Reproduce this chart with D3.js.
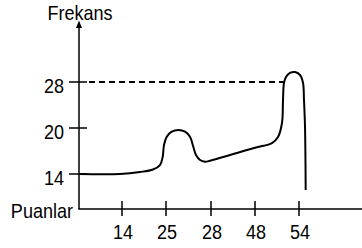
<!DOCTYPE html>
<html>
<head>
<meta charset="utf-8">
<script src="https://cdn.jsdelivr.net/npm/d3@7"></script>
<style>
  html, body { margin: 0; padding: 0; background: #fff; }
  svg { display: block; }
  text { font-family: "Liberation Sans", Arial, sans-serif; fill: #000; }
</style>
</head>
<body>
<svg id="chart" width="362" height="248"></svg>
<script>
// ---- data ----
const xTickValues = [14, 25, 28, 48, 54];
const xTickLabels = ["14", "25", "28", "48", "54"];
const yTickValues = [14, 20, 28];
const yTickLabels = ["14", "20", "28"];
const xTitle = "Puanlar";
const yTitle = "Frekans";
// sketched frequency curve (puan, frekans)
const curveX = [0, 13.35, 18.5, 21.75, 23.5, 24.18, 24.5, 25.05, 25.38, 25.82, 26.27, 26.6, 26.82, 27.0, 27.27, 27.6, 28, 48, 50.32, 51.14, 51.68, 51.82, 51.95, 52.23, 52.77, 53.45, 54.14, 54.55, 54.68, 54.82, 54.91];
const curveY = [14, 14, 14.26, 14.59, 15.17, 16.26, 17.78, 18.86, 19.52, 19.74, 19.52, 18.86, 17.56, 16.48, 15.83, 15.6, 15.77, 17.42, 18.04, 18.83, 20.87, 24.87, 27.83, 28.87, 29.57, 29.74, 29.22, 27.83, 24.87, 20.17, 7.6];
const refLevel = 28;     // dashed reference value
const refEndX = 51.95;   // where dashed line meets curve

// ---- scales (sketch axes: unevenly spaced values, evenly spaced ticks) ----
const x = d3.scaleLinear().domain([0, 14, 25, 28, 48, 54]).range([79, 122, 166, 211, 255, 299]);
const y = d3.scaleLinear().domain([0, 14, 20, 28]).range([209, 174, 128, 82]);

const svg = d3.select("#chart");
const x0 = x(0), y0 = y(0);
const FS = 20.5, SX = 0.88;

function label(px, py, anchor, txt) {
  svg.append("text")
    .attr("transform", `translate(${px},${py}) scale(${SX},1)`)
    .attr("text-anchor", anchor).attr("font-size", FS).text(txt);
}

// arrow marker
svg.append("defs").append("marker")
  .attr("id", "arr").attr("viewBox", "0 0 10 10").attr("refX", 5).attr("refY", 10)
  .attr("markerWidth", 5).attr("markerHeight", 6).attr("orient", "0")
  .append("path").attr("d", "M1,10 L5,0 L9,10 Z").attr("fill", "#000");

// axes
svg.append("line").attr("x1", x0).attr("x2", x0).attr("y1", y0).attr("y2", 28)
  .attr("stroke", "#000").attr("stroke-width", 1.5).attr("marker-end", "url(#arr)");
svg.append("line").attr("x1", x0 - 0.75).attr("x2", 362).attr("y1", y0).attr("y2", y0)
  .attr("stroke", "#000").attr("stroke-width", 1.5);

// x ticks
svg.selectAll(".xt").data(xTickValues).join("line").attr("class", "xt")
  .attr("x1", d => x(d)).attr("x2", d => x(d)).attr("y1", y0 - 8).attr("y2", y0 + 7)
  .attr("stroke", "#000").attr("stroke-width", 1.5);
xTickValues.forEach((d, i) => label(x(d) + 1, 239, "middle", xTickLabels[i]));

// y ticks
svg.selectAll(".yt").data(yTickValues).join("line").attr("class", "yt")
  .attr("x1", x0 - 10).attr("x2", x0 + 8).attr("y1", d => y(d)).attr("y2", d => y(d))
  .attr("stroke", "#000").attr("stroke-width", 1.5);
yTickValues.forEach((d, i) => label(64, y(d) + 11, "end", yTickLabels[i]));

// dashed reference line
svg.append("line").attr("x1", x0 + 10).attr("x2", x(refEndX)).attr("y1", y(refLevel)).attr("y2", y(refLevel))
  .attr("stroke", "#000").attr("stroke-width", 2).attr("stroke-dasharray", "6,4");

// curve
const pts = curveX.map((v, i) => [v, curveY[i]]);
svg.append("path").datum(pts)
  .attr("d", d3.line().x(d => x(d[0])).y(d => y(d[1])).curve(d3.curveCatmullRom.alpha(0.5)))
  .attr("fill", "none").attr("stroke", "#000").attr("stroke-width", 2);

// titles
label(80, 20, "middle", yTitle);
label(73, 218, "end", xTitle);
</script>
</body>
</html>
